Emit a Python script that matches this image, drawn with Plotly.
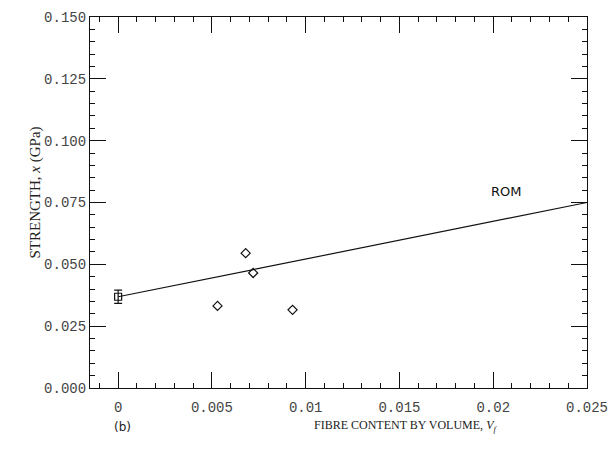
import plotly.graph_objects as go

# Data
sq_x = [0.0]
sq_y = [0.0369]
sq_err = [0.0027]
dia_x = [0.0053, 0.0068, 0.0072, 0.0093]
dia_y = [0.0332, 0.0545, 0.0465, 0.0316]
rom_x = [0.0, 0.025]
rom_y = [0.0369, 0.0750]
xtick_vals = [0, 0.005, 0.01, 0.015, 0.02, 0.025]
xtick_text = ["0", "0.005", "0.01", "0.015", "0.02", "0.025"]
ytick_vals = [0, 0.025, 0.05, 0.075, 0.1, 0.125, 0.15]
ytick_text = ["0.000", "0.025", "0.050", "0.075", "0.100", "0.125", "0.150"]

fig = go.Figure()
fig.add_trace(go.Scatter(x=rom_x, y=rom_y, mode="lines",
                         line=dict(color="#111", width=1.2), showlegend=False))
fig.add_trace(go.Scatter(x=sq_x, y=sq_y, mode="markers",
                         marker=dict(symbol="square-open", size=7, color="#111", line=dict(width=1.2)),
                         error_y=dict(type="data", array=sq_err, color="#111", thickness=1.2, width=4),
                         showlegend=False))
fig.add_trace(go.Scatter(x=dia_x, y=dia_y, mode="markers",
                         marker=dict(symbol="diamond-open", size=7, color="#111", line=dict(width=1.2)),
                         showlegend=False))

tickfont = dict(family="Liberation Mono", size=14, color="#444")
fig.update_layout(
    width=613, height=456,
    margin=dict(l=90, r=26, t=17, b=68, autoexpand=False),
    paper_bgcolor="white", plot_bgcolor="white",
    xaxis=dict(range=[-0.0015, 0.025], showgrid=False, zeroline=False, automargin=False,
               showline=True, linecolor="#111", linewidth=1.2, mirror="ticks",
               ticks="inside", ticklen=16, tickwidth=1, tickcolor="#111",
               tickvals=xtick_vals, ticktext=xtick_text, tickfont=tickfont,
               ticklabelstandoff=6,
               minor=dict(dtick=0.001, tick0=0, ticks="inside", ticklen=5, tickcolor="#111", tickwidth=1)),
    yaxis=dict(range=[0, 0.15], showgrid=False, zeroline=False, automargin=False,
               showline=True, linecolor="#111", linewidth=1.2, mirror="ticks",
               ticks="inside", ticklen=16, tickwidth=1, tickcolor="#111",
               tickvals=ytick_vals, ticktext=ytick_text, tickfont=tickfont,
               minor=dict(dtick=0.005, tick0=0, ticks="inside", ticklen=5, tickcolor="#111", tickwidth=1)),
    annotations=[
        dict(text="ROM", x=0.0207, y=0.0795, xref="x", yref="y", showarrow=False,
             font=dict(family="DejaVu Sans", size=13, color="#111")),
        dict(text="FIBRE CONTENT BY VOLUME, <i>V</i><sub><i>f</i></sub>", x=405, y=436,
             xref="paper", yref="paper", showarrow=False,
             font=dict(family="Liberation Serif", size=12, color="#222")),
        dict(text="(b)", x=112, y=436, xref="paper", yref="paper", showarrow=False,
             font=dict(family="DejaVu Sans", size=12, color="#222")),
        dict(text="STRENGTH, <i>x</i> (GPa)", x=24, y=193, xref="paper", yref="paper",
             showarrow=False, textangle=-90,
             font=dict(family="Liberation Serif", size=15, color="#222")),
    ],
)

# convert pixel positions for paper-anchored annotations
pw = 613 - 90 - 26
ph = 456 - 17 - 68
for a in fig.layout.annotations:
    if a.xref == "paper":
        a.x = (a.x - 90) / pw
        a.y = (456 - 68 - a.y) / ph

fig.write_html("out.html")
